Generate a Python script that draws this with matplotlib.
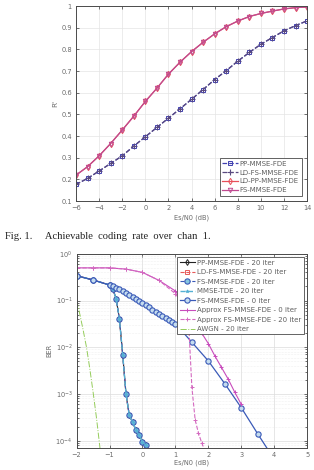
import numpy as np
import matplotlib
matplotlib.use("Agg")
import matplotlib.pyplot as plt

# ---- top chart: achievable coding rate ----
snr_rate = [-6, -5, -4, -3, -2, -1, 0, 1, 2, 3, 4, 5, 6, 7, 8, 9, 10, 11, 12, 13, 14]
rate_pp = [0.177, 0.205, 0.239, 0.274, 0.309, 0.354, 0.397, 0.440, 0.483, 0.526, 0.570,
           0.615, 0.661, 0.702, 0.746, 0.786, 0.824, 0.855, 0.886, 0.910, 0.932]
rate_ldfs = rate_pp
rate_ldpp = [0.220, 0.259, 0.309, 0.366, 0.428, 0.492, 0.560, 0.621, 0.686, 0.741, 0.790,
             0.833, 0.872, 0.905, 0.931, 0.952, 0.966, 0.977, 0.987, 0.993, 0.996]
rate_fs = rate_ldpp

# ---- bottom chart: BER ----
snr_iter = [-2, -1.5, -1, -0.9, -0.8, -0.7, -0.6, -0.5, -0.4, -0.3, -0.2, -0.1, 0, 0.1]
ber_iter = [0.34, 0.275, 0.215, 0.175, 0.11, 0.04, 0.0069, 1.0e-3, 3.5e-4, 2.5e-4,
            1.7e-4, 1.3e-4, 9.6e-5, 8.0e-5]

snr_fs0 = [-2, -1.5, -1, -0.9, -0.8, -0.7, -0.6, -0.5, -0.4, -0.3, -0.2, -0.1, 0,
           0.1, 0.2, 0.3, 0.4, 0.5, 0.6, 0.7, 0.8, 0.9, 1.0, 1.5, 2, 2.5, 3, 3.5, 4]
ber_fs0 = [0.34, 0.275, 0.215, 0.200, 0.188, 0.175, 0.160, 0.145, 0.133, 0.121, 0.110,
           0.099, 0.089, 0.080, 0.072, 0.064, 0.057, 0.051, 0.046, 0.042, 0.038, 0.035,
           0.032, 0.0128, 0.0051, 0.00166, 5.1e-4, 1.4e-4, 4.0e-5]

snr_apx0 = [-2, -1.5, -1, -0.5, 0, 0.5, 1.0, 1.2, 1.4, 1.6, 1.8, 2.0, 2.2, 2.4, 2.6, 2.8, 3.0]
ber_apx0 = [0.50, 0.50, 0.50, 0.47, 0.40, 0.27, 0.16, 0.10, 0.06, 0.035, 0.02, 0.012,
            0.0065, 0.0037, 0.0021, 0.0011, 6.0e-4]

snr_apx20 = [-2, -1.5, -1, -0.5, 0, 0.5, 1.0, 1.2, 1.4, 1.5, 1.6, 1.7, 1.8, 1.9]
ber_apx20 = [0.50, 0.50, 0.50, 0.47, 0.40, 0.27, 0.14, 0.09, 0.035, 0.0014, 2.8e-4,
             1.45e-4, 9.0e-5, 6.0e-5]

snr_awgn = [-2, -1.9, -1.8, -1.7, -1.6, -1.5, -1.4, -1.3, -1.2]
ber_awgn = [0.1, 0.05, 0.023, 0.01, 0.0035, 0.0011, 3.2e-4, 8.0e-5, 1.6e-5]

tick_col = "#6a6a6a"
fig = plt.figure(figsize=(3.14, 4.70), dpi=100)

def style_axes(ax):
    ax.tick_params(direction="in", top=True, right=True, labelsize=4.8,
                   colors="#3a3a3a", labelcolor=tick_col, length=2.5, width=0.5, pad=3)
    ax.tick_params(which="minor", direction="in", top=True, right=True, length=1.5, width=0.4)
    for s in ax.spines.values():
        s.set_color("#4a4a4a")
        s.set_linewidth(0.7)

def style_legend(leg):
    leg.get_frame().set_edgecolor("#4a4a4a")
    leg.get_frame().set_linewidth(0.6)
    for t in leg.get_texts():
        t.set_color("#606060")

# top axes
ax1 = fig.add_axes([0.242, 0.572, 0.736, 0.415])
ax1.plot(snr_rate, rate_pp, color="#4040b0", ls="--", marker="s", ms=2.8, mfc="none",
         lw=0.9, mew=0.7, label="PP-MMSE-FDE")
ax1.plot(snr_rate, rate_ldfs, color="#5a4a80", ls="--", marker="+", ms=3.8,
         lw=0.9, mew=0.8, label="LD-FS-MMSE-FDE")
ax1.plot(snr_rate, rate_ldpp, color="#e8505a", ls="-", marker="d", ms=3.2, mfc="none",
         lw=0.9, mew=0.7, label="LD-PP-MMSE-FDE")
ax1.plot(snr_rate, rate_fs, color="#c04a90", ls="-", marker="v", ms=3.2, mfc="none",
         lw=0.9, mew=0.7, label="FS-MMSE-FDE")
ax1.set_xlim(-6, 14)
ax1.set_ylim(0.1, 1)
ax1.set_xticks(np.arange(-6, 15, 2))
ax1.set_yticks([0.1, 0.2, 0.3, 0.4, 0.5, 0.6, 0.7, 0.8, 0.9, 1])
ax1.set_yticklabels(["0.1", "0.2", "0.3", "0.4", "0.5", "0.6", "0.7", "0.8", "0.9", "1"])
ax1.grid(True, color="#e4e4e4", lw=0.5)
ax1.set_axisbelow(True)
style_axes(ax1)
ax1.set_xlabel("Es/N0 (dB)", fontsize=4.8, color=tick_col, labelpad=2)
ax1.set_ylabel("R'", fontsize=5.2, color=tick_col, labelpad=2)
leg1 = ax1.legend(loc="lower right", fontsize=5, handlelength=2.2, borderpad=0.35,
                  labelspacing=0.4, handletextpad=0.3, fancybox=False, framealpha=1,
                  borderaxespad=0.8)
style_legend(leg1)

# caption
fig.text(0.016, 0.497, "Fig. 1.     Achievable  coding  rate  over  chan  1.",
         family="Liberation Serif", fontsize=7.6, va="center", ha="left", color="#222222")

# bottom axes
ax2 = fig.add_axes([0.244, 0.047, 0.734, 0.413])
ax2.semilogy(snr_iter, ber_iter, color="#222222", ls="-", marker="d", ms=3, mfc="none",
             lw=0.8, mew=0.7, label="PP-MMSE-FDE - 20 iter")
ax2.semilogy(snr_iter, ber_iter, color="#e85a5a", ls="--", marker="s", ms=3, mfc="none",
             lw=0.8, mew=0.7, label="LD-FS-MMSE-FDE - 20 iter")
ax2.semilogy(snr_iter, ber_iter, color="#3a5ab8", ls="--", marker="o", ms=3.8, mfc="#86c6e0",
             lw=0.8, mew=0.8, label="FS-MMSE-FDE - 20 iter")
ax2.semilogy(snr_iter, ber_iter, color="#55b0d4", ls="--", marker="*", ms=2.5, mfc="#55b0d4",
             lw=1.0, mew=0.5, label="MMSE-TDE - 20 iter")
ax2.semilogy(snr_fs0, ber_fs0, color="#3a5ab8", ls="-", marker="o", ms=3.8, mfc="#c4dcef",
             lw=0.9, mew=0.8, label="FS-MMSE-FDE - 0 iter")
ax2.semilogy(snr_apx0, ber_apx0, color="#c84cbc", ls="-", marker="+", ms=3.5,
             lw=0.8, mew=0.7, label="Approx FS-MMSE-FDE - 0 iter")
ax2.semilogy(snr_apx20, ber_apx20, color="#d46ac0", ls="--", marker="+", ms=3.5,
             lw=0.8, mew=0.7, label="Approx FS-MMSE-FDE - 20 iter")
ax2.semilogy(snr_awgn, ber_awgn, color="#94cc5a", ls="-.", lw=0.7,
             label="AWGN - 20 iter")
ax2.set_xlim(-2, 5)
ax2.set_ylim(7e-5, 1)
ax2.set_xticks(np.arange(-2, 6, 1))
ax2.grid(True, which="major", color="#dcdcdc", lw=0.5)
ax2.grid(True, which="minor", axis="y", color="#e4e4e4", lw=0.4, ls=":")
ax2.set_axisbelow(True)
style_axes(ax2)
ax2.set_xlabel("Es/N0 (dB)", fontsize=4.8, color=tick_col, labelpad=1)
ax2.set_ylabel("BER", fontsize=4.8, color=tick_col, labelpad=2)
leg2 = ax2.legend(loc="upper right", fontsize=5, handlelength=2.2, borderpad=0.35,
                  labelspacing=0.5, handletextpad=0.3, fancybox=False, framealpha=1,
                  borderaxespad=0.5)
style_legend(leg2)

fig.savefig("out.png", dpi=100)
